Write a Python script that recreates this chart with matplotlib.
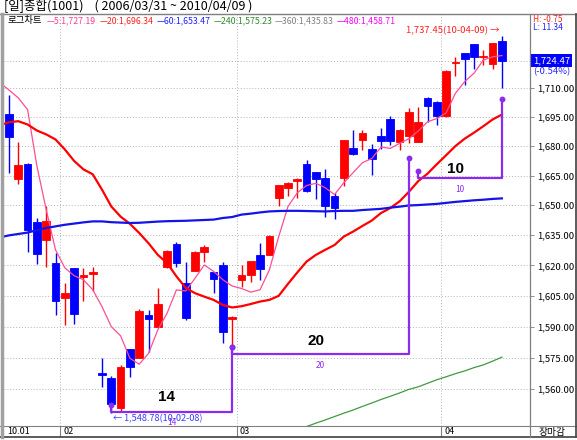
import matplotlib
matplotlib.use("Agg")
import matplotlib.pyplot as plt
from matplotlib.lines import Line2D
from matplotlib.ticker import FixedLocator, FuncFormatter, NullLocator
import numpy as np

plt.rcParams['font.family'] = ['Noto Sans CJK KR', 'DejaVu Sans']

# === Daily KOSPI candles (2010-01-22 ~ 2010-04-09) ===
dates = [
    "2010-01-22", "2010-01-25", "2010-01-26", "2010-01-27", "2010-01-28", "2010-01-29",
    "2010-02-01", "2010-02-02", "2010-02-03", "2010-02-04", "2010-02-05", "2010-02-08",
    "2010-02-09", "2010-02-10", "2010-02-11", "2010-02-12", "2010-02-16", "2010-02-17",
    "2010-02-18", "2010-02-19", "2010-02-22", "2010-02-23", "2010-02-24", "2010-02-25",
    "2010-02-26", "2010-03-02", "2010-03-03", "2010-03-04", "2010-03-05", "2010-03-08",
    "2010-03-09", "2010-03-10", "2010-03-11", "2010-03-12", "2010-03-15", "2010-03-16",
    "2010-03-17", "2010-03-18", "2010-03-19", "2010-03-22", "2010-03-23", "2010-03-24",
    "2010-03-25", "2010-03-26", "2010-03-29", "2010-03-30", "2010-03-31", "2010-04-01",
    "2010-04-02", "2010-04-05", "2010-04-06", "2010-04-07", "2010-04-08", "2010-04-09",
]
opens = [
    1696.7, 1663.5, 1670.8, 1641.8, 1632.6, 1621.1, 1604.1, 1618.6, 1614.2, 1615.8,
    1567.5, 1565.1, 1551.0, 1579.0, 1575.0, 1595.7, 1590.0, 1619.1, 1630.6, 1611.2,
    1617.4, 1626.8, 1616.6, 1620.2, 1593.8, 1612.9, 1615.3, 1625.2, 1625.2, 1653.7,
    1658.5, 1662.4, 1670.8, 1666.9, 1664.0, 1654.9, 1663.6, 1679.3, 1683.0, 1678.8,
    1685.2, 1693.8, 1682.0, 1685.2, 1682.4, 1705.2, 1703.0, 1695.5, 1723.4, 1728.3,
    1733.1, 1726.4, 1722.6, 1734.8,
]
highs = [
    1706.6, 1682.1, 1671.5, 1643.5, 1649.4, 1626.3, 1611.5, 1618.8, 1618.6, 1619.1,
    1575.0, 1566.3, 1571.5, 1579.2, 1598.4, 1598.1, 1608.8, 1627.6, 1631.5, 1621.9,
    1627.0, 1630.1, 1616.8, 1621.6, 1595.0, 1620.2, 1622.4, 1631.0, 1635.0, 1660.4,
    1661.6, 1663.6, 1672.8, 1667.0, 1668.2, 1656.3, 1683.2, 1688.3, 1688.3, 1681.0,
    1689.5, 1695.5, 1688.8, 1699.9, 1700.3, 1705.3, 1703.2, 1719.4, 1726.2, 1728.4,
    1733.2, 1730.1, 1733.9, 1737.45,
]
lows = [
    1666.5, 1661.0, 1626.8, 1620.7, 1619.4, 1595.7, 1590.8, 1591.3, 1602.7, 1607.6,
    1561.1, 1548.78, 1549.6, 1565.9, 1574.8, 1577.9, 1589.8, 1618.8, 1619.4, 1593.2,
    1617.2, 1621.9, 1606.3, 1582.2, 1580.3, 1609.5, 1611.7, 1612.9, 1625.0, 1649.7,
    1654.5, 1653.7, 1656.8, 1653.2, 1644.0, 1643.0, 1659.7, 1675.4, 1678.1, 1665.2,
    1678.8, 1680.5, 1677.9, 1681.5, 1682.2, 1692.7, 1690.7, 1695.3, 1716.4, 1711.7,
    1720.0, 1722.2, 1720.0, 1710.3,
]
closes = [
    1684.7, 1670.3, 1637.6, 1625.5, 1642.2, 1602.7, 1606.6, 1596.0, 1615.0, 1616.8,
    1566.8, 1552.9, 1570.7, 1570.4, 1597.6, 1593.7, 1601.0, 1627.3, 1621.4, 1594.0,
    1626.8, 1629.0, 1613.2, 1587.5, 1594.7, 1615.3, 1622.2, 1618.3, 1634.8, 1660.2,
    1661.4, 1663.1, 1657.4, 1663.5, 1649.7, 1648.6, 1683.0, 1675.9, 1686.6, 1673.3,
    1682.5, 1682.5, 1688.6, 1697.9, 1692.4, 1700.9, 1695.5, 1719.2, 1723.9, 1725.2,
    1726.6, 1727.1, 1733.83, 1724.47,
]

# moving averages, first value belongs to the session before the first candle
ma5 = [
    1713.0, 1709.1, 1705.0, 1698.9, 1669.9, 1647.8, 1627.7, 1618.8, 1614.9, 1612.9,
    1608.0, 1599.7, 1590.0, 1585.5, 1574.7, 1571.8, 1577.0, 1588.4, 1596.5, 1607.9,
    1607.4, 1613.6, 1620.2, 1617.0, 1612.9, 1609.8, 1608.6, 1606.8, 1608.0, 1617.8,
    1634.3, 1649.4, 1656.3, 1660.0, 1661.1, 1658.9, 1655.4, 1661.4, 1666.5, 1671.6,
    1673.7, 1679.6, 1678.9, 1681.5, 1683.9, 1687.8, 1692.6, 1694.3, 1697.2, 1707.4,
    1713.5, 1717.9, 1724.8, 1726.5, 1727.19,
]
ma20 = [
    1690.7, 1692.4, 1692.9, 1691.2, 1688.1, 1686.1, 1683.5, 1678.4, 1672.5, 1668.2,
    1665.7, 1657.9, 1649.4, 1644.3, 1640.7, 1636.1, 1631.0, 1625.2, 1621.1, 1614.6,
    1608.9, 1606.3, 1604.6, 1603.0, 1600.5, 1599.3, 1599.9, 1601.0, 1602.2, 1603.0,
    1605.0, 1610.9, 1616.5, 1621.9, 1625.2, 1627.7, 1630.1, 1634.3, 1636.8, 1639.6,
    1642.3, 1646.1, 1648.6, 1652.0, 1656.8, 1662.2, 1666.0, 1670.8, 1675.4, 1680.1,
    1683.9, 1687.0, 1690.3, 1693.8, 1696.34,
]
ma60 = [
    1633.9, 1634.9, 1635.6, 1636.3, 1637.5, 1638.6, 1639.4, 1640.2, 1640.8, 1641.4,
    1641.9, 1641.9, 1641.5, 1641.3, 1641.1, 1641.2, 1641.5, 1641.8, 1642.0, 1642.1,
    1642.2, 1642.4, 1642.6, 1642.8, 1643.6, 1644.1, 1645.3, 1645.8, 1646.4, 1646.9,
    1647.1, 1647.2, 1647.2, 1647.1, 1647.0, 1646.9, 1647.1, 1647.2, 1647.2, 1647.6,
    1647.9, 1648.2, 1648.8, 1649.3, 1649.9, 1650.1, 1650.4, 1650.7, 1651.2, 1651.7,
    1652.1, 1652.5, 1652.8, 1653.2, 1653.47,
]
ma240_first = 32
ma240 = [
    1540.5, 1542.2, 1543.8, 1545.3, 1546.9, 1548.5, 1550.0, 1551.7, 1553.3, 1555.0,
    1556.5, 1558.1, 1559.8, 1561.0, 1562.7, 1564.4, 1565.8, 1567.3, 1568.6, 1570.2,
    1571.5, 1573.3, 1575.23,
]
ma_periods = [5, 20, 60, 240, 360, 480]
ma_last = [1727.19, 1696.34, 1653.47, 1575.23, 1435.83, 1458.71]

# bar-count markers (candle numbers, 1-based)
count_start = [12, 25, 45]
count_end = [25, 44, 54]
count_from = [1552.4, 1580.0, 1667.2]
count_to = [1580.0, 1674.2, 1704.4]
count_base = [1549.2, 1576.7, 1663.6]

tick_levels = [1560, 1575, 1590, 1605, 1620, 1635, 1650, 1665, 1680, 1695, 1710]
hl_values = [-0.75, 11.34]

# === Layout (pixels) ===
W, H = 577, 440
RED = '#ff0000'
BLUE = '#0000ff'
PURPLE = '#8a2cf0'
GRID = '#b4b4b4'


def fx(px):
    return px / W


def fy(py):
    return 1 - py / H


fig = plt.figure(figsize=(W / 100, H / 100), dpi=100)
fig.patch.set_facecolor('white')
renderer = fig.canvas.get_renderer()

n = len(dates)
x = np.arange(1, n + 1)
xlim = (0.4624, 57.02)

ax = fig.add_axes([fx(4), fy(426), (530 - 4) / W, (426 - 14) / H])
ax.set_yscale('log')
ax.set_ylim(1542.45, 1749.24)
ax.set_xlim(*xlim)
for s in ax.spines.values():
    s.set_visible(False)
ax.yaxis.tick_right()
ax.yaxis.set_major_locator(FixedLocator(tick_levels))
ax.yaxis.set_minor_locator(NullLocator())
ax.yaxis.set_major_formatter(FuncFormatter(lambda v, p: f"{v:,.2f}"))
ax.tick_params(axis='y', length=3, width=0.6, color='#808080', pad=2, labelsize=6.8)
ax.tick_params(axis='x', bottom=False, labelbottom=False)

# grid
for lv in tick_levels:
    ax.axhline(lv, color=GRID, lw=0.7, ls=(0, (1, 2)), zorder=0)
ax.axhline(closes[-1], color=GRID, lw=0.7, ls=(0, (1, 2)), zorder=0)

months = [d[:7] for d in dates]
bounds = [i + 0.5 for i in range(1, n) if months[i] != months[i - 1]]
for b in bounds:
    ax.axvline(b, color=GRID, lw=0.7, ls=(0, (1, 2)), zorder=0)

# candles
o = np.array(opens)
c = np.array(closes)
colors = np.where(c >= o, RED, BLUE)
ax.vlines(x, lows, highs, colors=colors, lw=1.0, zorder=2)
ax.bar(x, np.abs(c - o), bottom=np.minimum(o, c), width=0.82, color=colors,
       edgecolor=colors, linewidth=0.6, zorder=2)

# moving averages
xm = np.arange(0, n + 1)
ax.plot(xm, ma5, color='#ff4d94', lw=0.9, zorder=3)
ax.plot(xm, ma20, color=RED, lw=1.6, zorder=3)
ax.plot(xm, ma60, color='#1414e6', lw=1.6, zorder=3)
ax.plot(np.arange(ma240_first, n + 1), ma240, color='#3f9a3f', lw=0.9, zorder=3)

# bar-count markers
lift = [15, 13, 9]
for k in range(len(count_start)):
    s, e = count_start[k], count_end[k]
    ax.plot([s, s, e, e], [count_from[k], count_base[k], count_base[k], count_to[k]],
            color=PURPLE, lw=1.6, zorder=5)
    ax.plot([s, e], [count_from[k], count_to[k]], 'o', ms=3.2, color=PURPLE, zorder=6)
    mid = (s + e) / 2
    cnt = str(e - s + 1)
    ax.annotate(cnt, (mid, count_base[k]), xytext=(-5, lift[k]), textcoords='offset pixels',
                ha='center', va='center', fontsize=11, fontweight='bold', color='black',
                family=['Liberation Sans', 'DejaVu Sans'], zorder=7)
    ax.annotate(cnt, (mid, count_base[k]), xytext=(0, -11), textcoords='offset pixels',
                ha='center', va='center', fontsize=6, color=PURPLE, zorder=7)

# high / low labels
i_hi = int(np.argmax(highs))
i_lo = int(np.argmin(lows))
ax.annotate(f"{highs[i_hi]:,.2f}({dates[i_hi][2:]}) →", (i_hi + 1, highs[i_hi]),
            xytext=(-2, 5), textcoords='offset pixels', ha='right', va='center',
            fontsize=6.8, color='#ff2020', zorder=8)
ax.annotate(f"← {lows[i_lo]:,.2f}({dates[i_lo][2:]})", (i_lo + 1, lows[i_lo]),
            xytext=(2, -6), textcoords='offset pixels', ha='left', va='center',
            fontsize=6.6, color='#3c3cff', zorder=8, annotation_clip=False)

# last price box and change
chg = (closes[-1] / closes[-2] - 1) * 100
ax.annotate(f"{closes[-1]:,.2f}", (1, closes[-1]), xycoords=('axes fraction', 'data'),
            xytext=(3, 0), textcoords='offset pixels', ha='left', va='center',
            fontsize=6.8, color='white', annotation_clip=False,
            bbox=dict(boxstyle='square,pad=0.2', fc=BLUE, ec='none'))
ax.annotate(f"({chg:.2f}%)", (1, closes[-1]), xycoords=('axes fraction', 'data'),
            xytext=(3, -11), textcoords='offset pixels', ha='left', va='center',
            fontsize=6.8, color='#2828ff', annotation_clip=False)

# legend row: label, then one entry per moving average
leg_colors = ['#ff3c96', '#ff2020', '#2020ff', '#2e8b2e', '#808080', '#ff00ff']
fig.text(fx(8), fy(20.7), "로그차트", fontsize=6.8, va='center', color='black')
xp = 47
for k, (p, v) in enumerate(zip(ma_periods, ma_last)):
    t = fig.text(fx(xp), fy(20.7), f"—{p}:{v:,.2f}", fontsize=6.3, va='center',
                 color=leg_colors[k])
    xp += t.get_window_extent(renderer).width + 3

fig.text(fx(533), fy(19.5), f"H: {hl_values[0]:.2f}", fontsize=6.0, va='center', color='#ff2020')
fig.text(fx(533), fy(27), f"L: {hl_values[1]:.2f}", fontsize=6.0, va='center', color='#2020ff')

# title
fig.text(fx(4), fy(6.5), "[일]종합(1001)    ( 2006/03/31 ~ 2010/04/09 )", fontsize=9,
         va='center', color='black')

# === Date band ===
ax2 = fig.add_axes([fx(4), fy(437), (530 - 4) / W, 11 / H])
ax2.set_xlim(*xlim)
ax2.set_ylim(0, 1)
ax2.axis('off')
ax2.annotate(f"{dates[0][2:4]}.{dates[0][5:7]}", (xlim[0], 0.5), xytext=(3, 0),
             textcoords='offset pixels', ha='left', va='center', fontsize=6.5)
for b in bounds:
    i = int(b + 0.5)
    ax2.axvline(b, color='#808080', lw=0.8)
    ax2.annotate(dates[i][5:7], (b, 0.5), xytext=(3, 0), textcoords='offset pixels',
                 ha='left', va='center', fontsize=6.5)
fig.text(fx(552.5), fy(431.5), "장마감", fontsize=7, ha='center', va='center')


# === Frame ===
def hline(y, x0, x1, **kw):
    fig.add_artist(Line2D([fx(x0), fx(x1)], [fy(y), fy(y)], transform=fig.transFigure, **kw))


def vline(xp, y0, y1, **kw):
    fig.add_artist(Line2D([fx(xp), fx(xp)], [fy(y0), fy(y1)], transform=fig.transFigure, **kw))


hline(14, 0, 577, color='#7f7f7f', lw=1.0)
hline(426, 0, 576, color='#808080', lw=0.8)
hline(437, 0, 576, color='#404040', lw=1.2)
vline(1.5, 14, 437, color='#a0a0a0', lw=2.5)
vline(530, 14, 437, color='#808080', lw=0.9)
vline(575.5, 14, 437, color='#404040', lw=1.2)

fig.savefig("out.png", dpi=100)
